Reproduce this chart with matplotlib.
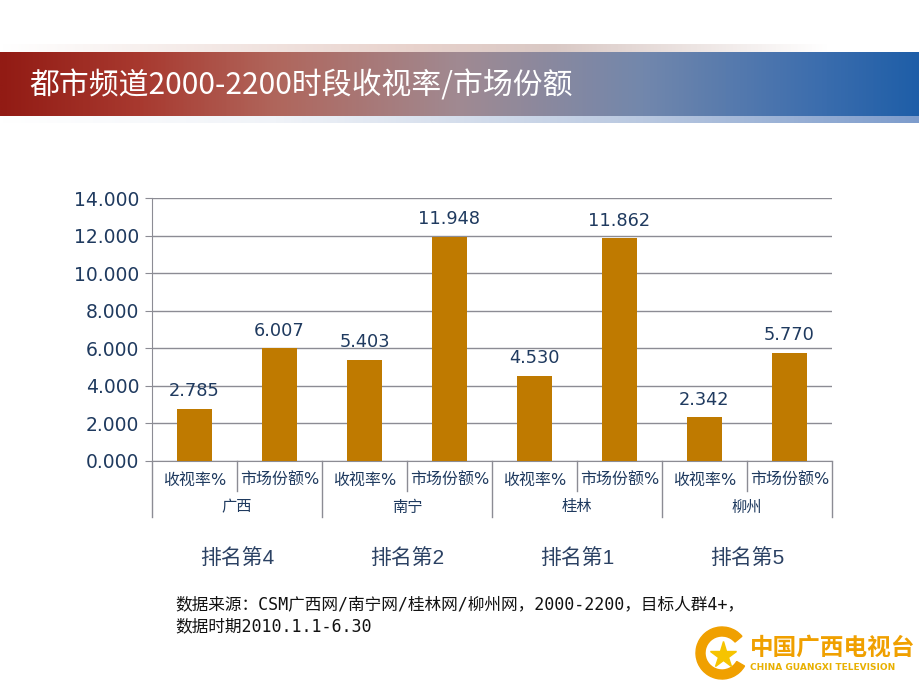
import matplotlib as mpl
mpl.use('Agg')
from matplotlib import pyplot as plt
from matplotlib.colors import LinearSegmentedColormap
from matplotlib.transforms import blended_transform_factory
from matplotlib.patches import Wedge
import numpy as np

plt.rcParams['font.family'] = ['DejaVu Sans', 'Noto Sans CJK SC']

# data
cities = ['广西', '南宁', '桂林', '柳州']
metrics = ['收视率%', '市场份额%']
values = [2.785, 6.007, 5.403, 11.948, 4.530, 11.862, 2.342, 5.770]
ranks = ['排名第4', '排名第2', '排名第1', '排名第5']
yticks = [0, 2, 4, 6, 8, 10, 12, 14]
title = '都市频道2000-2200时段收视率/市场份额'
note1 = '数据来源：CSM广西网/南宁网/桂林网/柳州网，2000-2200，目标人群4+，'
note2 = '数据时期2010.1.1-6.30'

W, H = 920, 690
fig = plt.figure(figsize=(W / 100, H / 100), dpi=100)
fig.patch.set_facecolor('white')

def px_axes(x0, y0, x1, y1):
    # pixel box (top-left origin) -> figure axes
    return fig.add_axes([x0 / W, 1 - y1 / H, (x1 - x0) / W, (y1 - y0) / H])

# banner gradient
grad = np.linspace(0, 1, 512).reshape(1, -1)
ban_cmap = LinearSegmentedColormap.from_list('ban', [
    (0.0, '#921b14'), (0.15, '#a8392f'), (0.3, '#b0665c'),
    (0.5, '#a08a92'), (0.7, '#7287ac'), (0.88, '#3f6fae'), (1.0, '#1e5ea8')])
bax = px_axes(0, 52, W, 116)
bax.imshow(grad, aspect='auto', cmap=ban_cmap, extent=[0, 1, 0, 1])
bax.axis('off')
bax.text(0.032, 0.47, title, color='white', fontsize=21.5,
         family=['Noto Sans CJK SC', 'DejaVu Sans'], va='center', ha='left')

# thin strips above and below banner
top_cmap = LinearSegmentedColormap.from_list('top', [
    (0.0, '#ffffff'), (0.45, '#e8d2cc'), (0.6, '#d9c8c4'), (0.9, '#ffffff'), (1.0, '#ffffff')])
tax = px_axes(0, 44, W, 52)
tax.imshow(grad, aspect='auto', cmap=top_cmap, extent=[0, 1, 0, 1])
tax.axis('off')
bot_cmap = LinearSegmentedColormap.from_list('bot', [
    (0.0, '#ffffff'), (0.3, '#f0f3f8'), (0.7, '#b9c8e0'), (1.0, '#7d9ccc')])
lax = px_axes(0, 116, W, 123)
lax.imshow(grad, aspect='auto', cmap=bot_cmap, extent=[0, 1, 0, 1])
lax.axis('off')

# chart
ax = px_axes(152, 198, 832, 461)
n = len(values)
x = np.arange(n)
ax.bar(x, values, width=0.41, color='#bf7a00', zorder=3)
ax.set_xlim(-0.5, n - 0.5)
ax.set_ylim(0, 14)
ax.set_yticks(yticks)
ax.set_yticklabels(['%.3f' % t for t in yticks], fontsize=13.5, color='#1f3a5f')
ax.yaxis.grid(True, color='#8c8c94', linewidth=1)
ax.set_axisbelow(True)
ax.tick_params(axis='y', length=5, color='#8c8c94', pad=4)
ax.tick_params(axis='x', length=0, labelbottom=False)
for s in ['top', 'right']:
    ax.spines[s].set_visible(False)
ax.spines['left'].set_color('#8c8c94')
ax.spines['bottom'].set_color('#8c8c94')

for xi, v in zip(x, values):
    ax.text(xi, v + 0.45, '%.3f' % v, ha='center', va='bottom',
            fontsize=12.8, color='#1f3a5f')

# category axis below
tr = blended_transform_factory(ax.transData, ax.transAxes)
ppx = 1.0 / (461 - 198)  # one pixel in axes fraction
sep_col = '#8c8c94'
for i in range(n + 1):
    xb = i - 0.5
    if i % 2 == 0:
        yb = -56 * ppx
    else:
        yb = -30 * ppx
    ax.plot([xb, xb], [0, yb], transform=tr, color=sep_col, lw=1, clip_on=False)
for i in range(n):
    ax.text(i, -19 * ppx, metrics[i % 2], transform=tr, ha='center', va='center',
            fontsize=11.5, color='#1f3a5f')
for j, c in enumerate(cities):
    ax.text(2 * j + 0.5, -46 * ppx, c, transform=tr, ha='center', va='center',
            fontsize=11, color='#1f3a5f')
for j, r in enumerate(ranks):
    ax.text(2 * j + 0.5, -97 * ppx, r, transform=tr, ha='center', va='center',
            fontsize=15, color='#2b4163', family=['Liberation Sans', 'Noto Sans CJK SC'])

# footnote
fig.text(175 / W, 1 - 604 / H, note1, fontsize=12, color='#111111',
         family=['DejaVu Sans Mono', 'Noto Sans CJK SC'], va='center', ha='left')
fig.text(175 / W, 1 - 626 / H, note2, fontsize=12, color='#111111',
         family=['DejaVu Sans Mono', 'Noto Sans CJK SC'], va='center', ha='left')

# logo (approximation)
gax = px_axes(690, 625, 760, 680)
gax.set_xlim(0, 70)
gax.set_ylim(0, 55)
gax.set_aspect('equal')
gax.axis('off')
gax.add_patch(Wedge((32, 27), 26, 40, 330, width=9, color='#f0a000'))
gax.plot([33], [25], marker='*', markersize=20, color='#f6c400')
fig.text(750 / W, 1 - 648 / H, '中国广西电视台', fontsize=17, color='#f0a000',
         fontweight='bold', family=['Noto Sans CJK SC'], va='center', ha='left')
fig.text(750 / W, 1 - 667 / H, 'CHINA GUANGXI TELEVISION', fontsize=6.5, color='#e8b000',
         fontweight='bold', va='center', ha='left')

fig.savefig('out.png', dpi=100)
